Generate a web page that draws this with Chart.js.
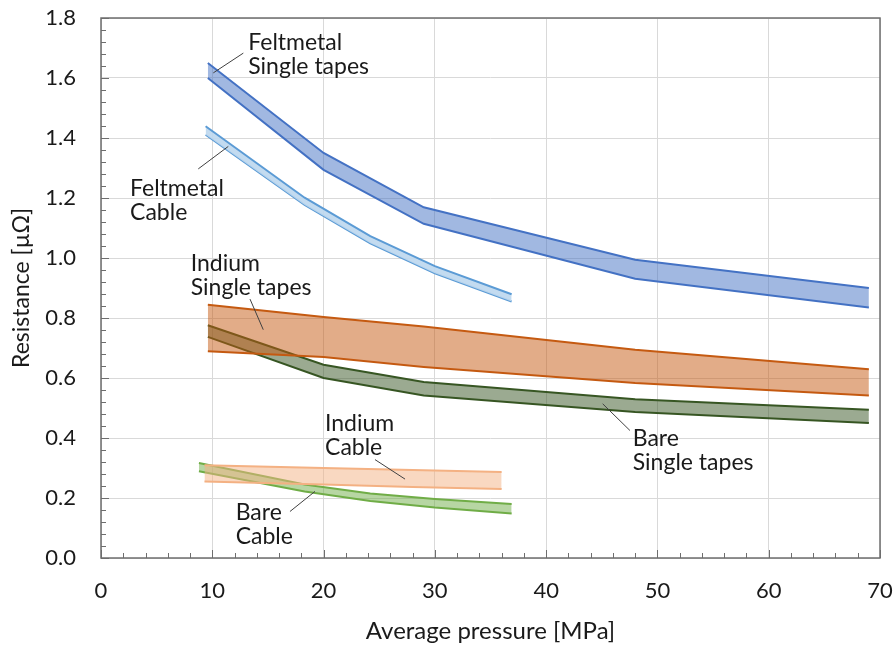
<!DOCTYPE html>
<html>
<head>
<meta charset="utf-8">
<script src="https://cdn.jsdelivr.net/npm/chart.js@4/dist/chart.umd.min.js"></script>
<style>
  html, body { margin: 0; padding: 0; background: #ffffff; }
  #wrap { width: 894px; height: 646px; }
</style>
</head>
<body>
<div id="wrap"><canvas id="chart" width="894" height="646"></canvas></div>
<script>
// Average pressure [MPa] and resistance [µΩ] bands (upper / lower bound)
const feltTapeP     = [9.6, 20.0, 29.0, 48.0, 69.0];
const feltTapeHigh  = [1.650, 1.350, 1.169, 0.994, 0.900];
const feltTapeLow   = [1.600, 1.294, 1.114, 0.931, 0.835];

const feltCableP    = [9.4, 18.3, 24.2, 30.0, 36.9];
const feltCableHigh = [1.439, 1.201, 1.073, 0.973, 0.879];
const feltCableLow  = [1.411, 1.177, 1.049, 0.949, 0.855];

const indTapeP      = [9.6, 20.0, 29.0, 48.0, 69.0];
const indTapeHigh   = [0.844, 0.803, 0.772, 0.694, 0.629];
const indTapeLow    = [0.689, 0.670, 0.637, 0.583, 0.542];

const bareTapeP     = [9.6, 20.0, 29.0, 48.0, 69.0];
const bareTapeHigh  = [0.776, 0.644, 0.587, 0.529, 0.494];
const bareTapeLow   = [0.737, 0.600, 0.542, 0.487, 0.450];

const indCableP     = [9.3, 20.0, 28.0, 36.0];
const indCableHigh  = [0.309, 0.300, 0.293, 0.287];
const indCableLow   = [0.255, 0.245, 0.237, 0.230];

const bareCableP    = [8.8, 18.3, 24.2, 30.0, 36.9];
const bareCableHigh = [0.317, 0.245, 0.215, 0.197, 0.180];
const bareCableLow  = [0.289, 0.222, 0.190, 0.168, 0.148];

// Axis ranges and tick steps
const xTicks = [0, 10, 20, 30, 40, 50, 60, 70];
const yTicks = [0.0, 0.2, 0.4, 0.6, 0.8, 1.0, 1.2, 1.4, 1.6, 1.8];
const xMinorStep = 2;
const yMinorStep = 0.04;

// Band labels with leader lines (in axis units)
const bandLabels = [
  { lines: ['Feltmetal', 'Single tapes'], x: 13.23, y: 1.719, from: [10.09, 1.617], to: [12.79, 1.683] },
  { lines: ['Feltmetal', 'Cable'],        x: 2.61,  y: 1.233, from: [8.74, 1.297],  to: [11.44, 1.372] },
  { lines: ['Indium', 'Single tapes'],    x: 8.06,  y: 0.983, from: [14.58, 0.761], to: [13.39, 0.863] },
  { lines: ['Bare', 'Single tapes'],      x: 47.78, y: 0.397, from: [45.08, 0.514], to: [47.53, 0.425] },
  { lines: ['Indium', 'Cable'],           x: 20.13, y: 0.448, from: [27.32, 0.263], to: [24.62, 0.328] },
  { lines: ['Bare', 'Cable'],             x: 12.1,  y: 0.150, from: [19.23, 0.222], to: [16.98, 0.155] }
];

const FONT = 'Lato, "Liberation Sans", sans-serif';
const TEXT = '#1a1a1a';

function pts(xs, ys) { return xs.map((x, i) => ({ x: x, y: ys[i] })); }

function band(label, xs, hi, lo, line, fill) {
  return [
    { label: label + ' (upper)', data: pts(xs, hi), borderColor: line, backgroundColor: fill,
      fill: '+1', borderWidth: 2, pointRadius: 0, tension: 0 },
    { label: label + ' (lower)', data: pts(xs, lo), borderColor: line, backgroundColor: fill,
      fill: false, borderWidth: 2, pointRadius: 0, tension: 0 }
  ];
}

const datasets = [
  ...band('Feltmetal single tapes', feltTapeP, feltTapeHigh, feltTapeLow, '#4472C4', 'rgba(68,114,196,0.5)'),
  ...band('Feltmetal cable', feltCableP, feltCableHigh, feltCableLow, '#5B9BD5', 'rgba(189,215,238,0.9)'),
  ...band('Indium single tapes', indTapeP, indTapeHigh, indTapeLow, '#C55A11', 'rgba(197,90,17,0.5)'),
  ...band('Bare single tapes', bareTapeP, bareTapeHigh, bareTapeLow, '#375623', 'rgba(55,86,35,0.5)'),
  ...band('Indium cable', indCableP, indCableHigh, indCableLow, '#F4B183', 'rgba(244,177,131,0.5)'),
  ...band('Bare cable', bareCableP, bareCableHigh, bareCableLow, '#70AD47', 'rgba(112,173,71,0.5)')
];

// Frame, inward tick marks and the band labels
const decorations = {
  id: 'decorations',
  afterDraw(chart) {
    const ctx = chart.ctx;
    const xs = chart.scales.x, ys = chart.scales.y;
    const a = chart.chartArea;
    ctx.save();
    ctx.strokeStyle = '#6e6e6e';
    ctx.lineWidth = 1;
    ctx.beginPath();
    for (let v = xs.min; v <= xs.max + 1e-9; v += xMinorStep) {
      const px = Math.round(xs.getPixelForValue(v)) + 0.5;
      const major = Math.abs(v / 10 - Math.round(v / 10)) < 1e-6;
      ctx.moveTo(px, a.bottom);
      ctx.lineTo(px, a.bottom - (major ? 8 : 5));
    }
    for (let v = ys.min; v <= ys.max + 1e-9; v += yMinorStep) {
      const py = Math.round(ys.getPixelForValue(v)) + 0.5;
      const major = Math.abs(v / 0.2 - Math.round(v / 0.2)) < 1e-6;
      ctx.moveTo(a.left, py);
      ctx.lineTo(a.left + (major ? 8 : 5), py);
    }
    ctx.stroke();

    ctx.strokeStyle = '#6e6e6e';
    ctx.lineWidth = 1.5;
    ctx.strokeRect(a.left, a.top, a.right - a.left, a.bottom - a.top);

    ctx.font = '23px ' + FONT;
    ctx.fillStyle = TEXT;
    ctx.textAlign = 'left';
    ctx.textBaseline = 'middle';
    bandLabels.forEach(l => {
      const tx = xs.getPixelForValue(l.x), ty = ys.getPixelForValue(l.y);
      l.lines.forEach((s, i) => ctx.fillText(s, tx, ty + i * 24));
      ctx.strokeStyle = '#404040';
      ctx.lineWidth = 1;
      ctx.beginPath();
      ctx.moveTo(xs.getPixelForValue(l.from[0]), ys.getPixelForValue(l.from[1]));
      ctx.lineTo(xs.getPixelForValue(l.to[0]), ys.getPixelForValue(l.to[1]));
      ctx.stroke();
    });
    ctx.restore();
  }
};

new Chart(document.getElementById('chart'), {
  type: 'line',
  data: { datasets: datasets },
  options: {
    responsive: false,
    animation: false,
    devicePixelRatio: 1,
    layout: { padding: { top: 18, right: 14, left: 0, bottom: 0 } },
    plugins: {
      legend: { display: false },
      tooltip: { enabled: false },
      filler: { propagate: false }
    },
    scales: {
      x: {
        type: 'linear',
        min: 0, max: 70,
        afterFit(s) { s.height = 88; s.paddingLeft = 0; s.paddingRight = 0; },
        afterBuildTicks(s) { s.ticks = xTicks.map(v => ({ value: v })); },
        grid: { color: '#d9d9d9', lineWidth: 1, drawTicks: false },
        border: { display: false },
        ticks: { padding: 20, color: TEXT, font: { family: FONT, size: 22 }, maxRotation: 0,
                 callback: v => String(v) },
        title: { display: true, text: 'Average pressure [MPa]', color: TEXT,
                 font: { family: FONT, size: 24 }, padding: { top: 0, bottom: 0 } }
      },
      y: {
        type: 'linear',
        min: 0, max: 1.8,
        afterFit(s) { s.width = 101; s.paddingTop = 0; s.paddingBottom = 0; },
        afterBuildTicks(s) { s.ticks = yTicks.map(v => ({ value: v })); },
        grid: { color: '#d9d9d9', lineWidth: 1, drawTicks: false },
        border: { display: false },
        ticks: { padding: 25, color: TEXT, font: { family: FONT, size: 22 },
                 callback: v => Number(v).toFixed(1) },
        title: { display: true, text: 'Resistance [µΩ]', color: TEXT,
                 font: { family: FONT, size: 23 }, padding: { top: 8, bottom: 0 } }
      }
    }
  },
  plugins: [decorations]
});
</script>
</body>
</html>
